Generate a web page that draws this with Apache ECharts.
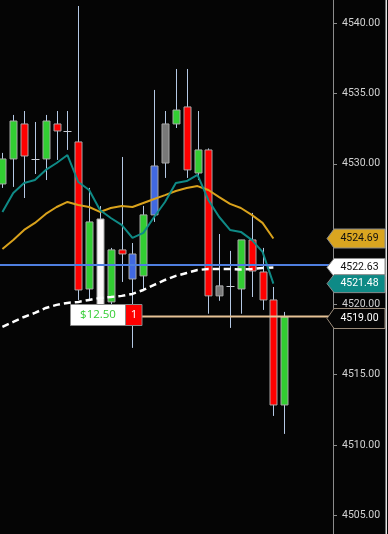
<!DOCTYPE html>
<html><head><meta charset="utf-8">
<script src="https://cdn.jsdelivr.net/npm/echarts@6/dist/echarts.min.js"></script>
<style>html,body{margin:0;padding:0;background:#050505;overflow:hidden}#c{width:388px;height:534px}</style>
</head><body><div id="c"></div>
<script>
// ---- data ----
const opens  = [4528.57,4530.35,4532.84,4530.35,4530.35,4532.84,4532.34,4531.56,4521.10,4519.97,4520.18,4523.88,4523.59,4522.03,4526.37,4530.06,4532.84,4534.05,4529.35,4530.99,4520.61,4521.32,4521.10,4524.59,4522.31,4520.32,4512.85];
const closes = [4530.35,4533.05,4530.56,4530.35,4533.05,4532.34,4532.34,4521.03,4525.87,4526.08,4523.88,4523.59,4521.81,4526.37,4529.85,4532.84,4533.83,4529.57,4530.99,4520.61,4521.32,4521.32,4524.59,4522.38,4520.32,4512.85,4519.11];
const lows   = [4528.29,4528.36,4527.57,4529.28,4528.85,4530.28,4530.99,4520.32,4520.32,4519.60,4519.80,4521.60,4516.91,4521.03,4525.87,4529.00,4532.55,4529.00,4528.85,4519.34,4520.26,4518.33,4519.34,4520.53,4519.61,4512.07,4510.79];
const highs  = [4530.78,4533.48,4533.76,4532.98,4533.48,4533.76,4533.76,4541.23,4528.29,4527.00,4524.02,4530.49,4524.37,4527.01,4535.26,4533.76,4536.75,4536.75,4533.76,4531.10,4525.01,4523.81,4524.59,4526.51,4524.02,4521.24,4519.47];
const candleKinds = ['green','green','red','doji','green','red','doji','red','green','white','green','red','blue','green','blue','gray','green','red','green','red','gray','doji','green','red','red','red','green'];
const tealMA = [4526.58,4527.93,4528.64,4528.85,4529.57,4530.06,4530.63,4528.71,4528.14,4526.72,4526.15,4525.66,4524.73,4525.09,4526.22,4527.29,4528.64,4528.78,4529.21,4527.43,4526.22,4525.30,4525.16,4524.59,4523.74,4521.48];
const goldMA = [4523.95,4524.59,4525.30,4525.80,4526.44,4526.93,4527.29,4527.08,4526.93,4526.58,4526.86,4527.01,4526.93,4527.22,4527.50,4527.78,4528.07,4528.28,4528.42,4528.14,4527.64,4527.15,4526.86,4526.37,4525.80,4524.69];
const dashedLine = [4518.40,4518.76,4519.11,4519.40,4519.75,4519.97,4520.11,4520.18,4520.32,4520.46,4520.53,4520.61,4520.75,4521.03,4521.39,4521.74,4522.03,4522.24,4522.45,4522.52,4522.52,4522.52,4522.49,4522.52,4522.60,4522.63];
const blueLevel = 4522.8;
const orderPrice = 4519.00;
const orderPnl = '$12.50';
const orderQty = '1';
const tagValues = [4524.69, 4522.63, 4521.48, 4519.00];

const fillMap = {green:'#32cd32', red:'#ff0000', white:'#fbf8f8', gray:'#787878', blue:'#4169e1'};

const candleData = opens.map((o, i) => [i, o, closes[i], lows[i], highs[i]]);
const toXY = arr => arr.map((v, i) => [i, v]);

function renderCandle(params, api) {
  const i = api.value(0);
  const o = api.value(1), c = api.value(2), l = api.value(3), h = api.value(4);
  const x = Math.round(api.coord([i, o])[0]) + 0.5;
  const yO = api.coord([i, o])[1], yC = api.coord([i, c])[1];
  const yL = api.coord([i, l])[1], yH = api.coord([i, h])[1];
  const w = Math.round(api.size([1, 0])[0] * 0.6);
  const kind = candleKinds[params.dataIndex];
  const children = [{type:'line', shape:{x1:x, y1:yH, x2:x, y2:yL}, style:{stroke:'#b4c8e4', lineWidth:1}}];
  if (kind === 'doji') {
    children.push({type:'line', shape:{x1:x - w/2 - 0.5, y1:Math.round(yO)+0.5, x2:x + w/2 + 0.5, y2:Math.round(yO)+0.5}, style:{stroke:'#c8ccd4', lineWidth:1}});
  } else {
    const top = Math.min(yO, yC), ht = Math.max(1, Math.abs(yO - yC));
    children.push({type:'rect', shape:{x:x - w/2, y:top, width:w, height:ht}, style:{fill:fillMap[kind], stroke:'#a8a8a8', lineWidth:1}});
  }
  return {type:'group', children};
}

const chart = echarts.init(document.getElementById('c'), null, {renderer:'canvas'});
const option = {
  animation: false,
  backgroundColor: '#050505',
  grid: {left: -3, right: 55, top: -47, bottom: -51.6, containLabel:false, outerBoundsMode:'none'},
  xAxis: {type:'value', min:-0.5, max:30.5, show:false},
  yAxis: {
    type:'value', position:'right', min:4500, max:4545, interval:5,
    axisLine:{show:true, onZero:false, lineStyle:{color:'#8c8c8c', width:1}},
    axisTick:{show:true, length:4, lineStyle:{color:'#8c8c8c'}},
    splitLine:{show:false},
    axisLabel:{color:'#d2d2d2', fontSize:10.5, fontFamily:'Roboto', margin:9, formatter: v => v.toFixed(2)}
  },
  series: [
    {type:'custom', name:'candles', renderItem: renderCandle, data: candleData, encode:{x:0, y:[1,2,3,4]}, z:2, clip:true},
    {type:'line', name:'dashed', data: toXY(dashedLine), showSymbol:false, z:3,
      lineStyle:{color:'#ffffff', width:2.5, type:[7,4]},
      markLine:{silent:true, symbol:'none', label:{show:false}, z:4,
        lineStyle:{color:'#4f7fe0', width:2, type:'solid'}, data:[{yAxis: blueLevel}]}},
    {type:'line', name:'gold', data: toXY(goldMA), showSymbol:false, z:3, lineStyle:{color:'#d9a21c', width:2}},
    {type:'line', name:'teal', data: toXY(tealMA), showSymbol:false, z:3, lineStyle:{color:'#0f8a86', width:2}}
  ]
};
chart.setOption(option);

const tagStyles = [
  {fill:'#d9a520', text:'#111111', h:9.5},
  {fill:'#ffffff', text:'#111111', h:9},
  {fill:'#0e8a86', text:'#ffffff', h:9},
  {fill:'#050505', text:'#ffffff', h:10}
];
const g = [];
const tanY = chart.convertToPixel({yAxisIndex:0}, orderPrice);
g.push({type:'line', shape:{x1:142, y1:tanY - 2, x2:335, y2:tanY - 2}, style:{stroke:'#e6c296', lineWidth:2}, z:50});
g.push({type:'rect', shape:{x:70.5, y:tanY - 14, width:55, height:21}, style:{fill:'#ffffff', stroke:'#8a8a8a', lineWidth:1}, z:60});
g.push({type:'text', x:98, y:tanY - 3.5, style:{text:orderPnl, fill:'#32cd32', font:'11.5px "Open Sans"', align:'center', verticalAlign:'middle'}, z:61});
g.push({type:'rect', shape:{x:125.5, y:tanY - 14, width:16.5, height:21}, style:{fill:'#ff0000', stroke:'#8a8a8a', lineWidth:1}, z:60});
g.push({type:'text', x:134, y:tanY - 3.5, style:{text:orderQty, fill:'#ffffff', font:'11.5px "Open Sans"', align:'center', verticalAlign:'middle'}, z:61});
tagValues.forEach((v, k) => {
  const y = chart.convertToPixel({yAxisIndex:0}, v);
  const s = tagStyles[k], hh = s.h;
  g.push({type:'polygon', shape:{points:[[327,y],[334,y-hh],[385,y-hh],[385,y+hh],[334,y+hh]]},
    style:{fill:s.fill, stroke:k === 3 ? '#9a8a78' : '#8a8a8a', lineWidth:1}, z:100 + 2*k});
  g.push({type:'text', x:359.5, y:y, style:{text:v.toFixed(2), fill:s.text, font:'10.5px Roboto', align:'center', verticalAlign:'middle'}, z:101 + 2*k});
});
g.push({type:'rect', shape:{x:385.5, y:0, width:1.5, height:534}, style:{fill:'#e6e6e6'}, z:200});
chart.setOption({graphic: g});
</script>
</body></html>
